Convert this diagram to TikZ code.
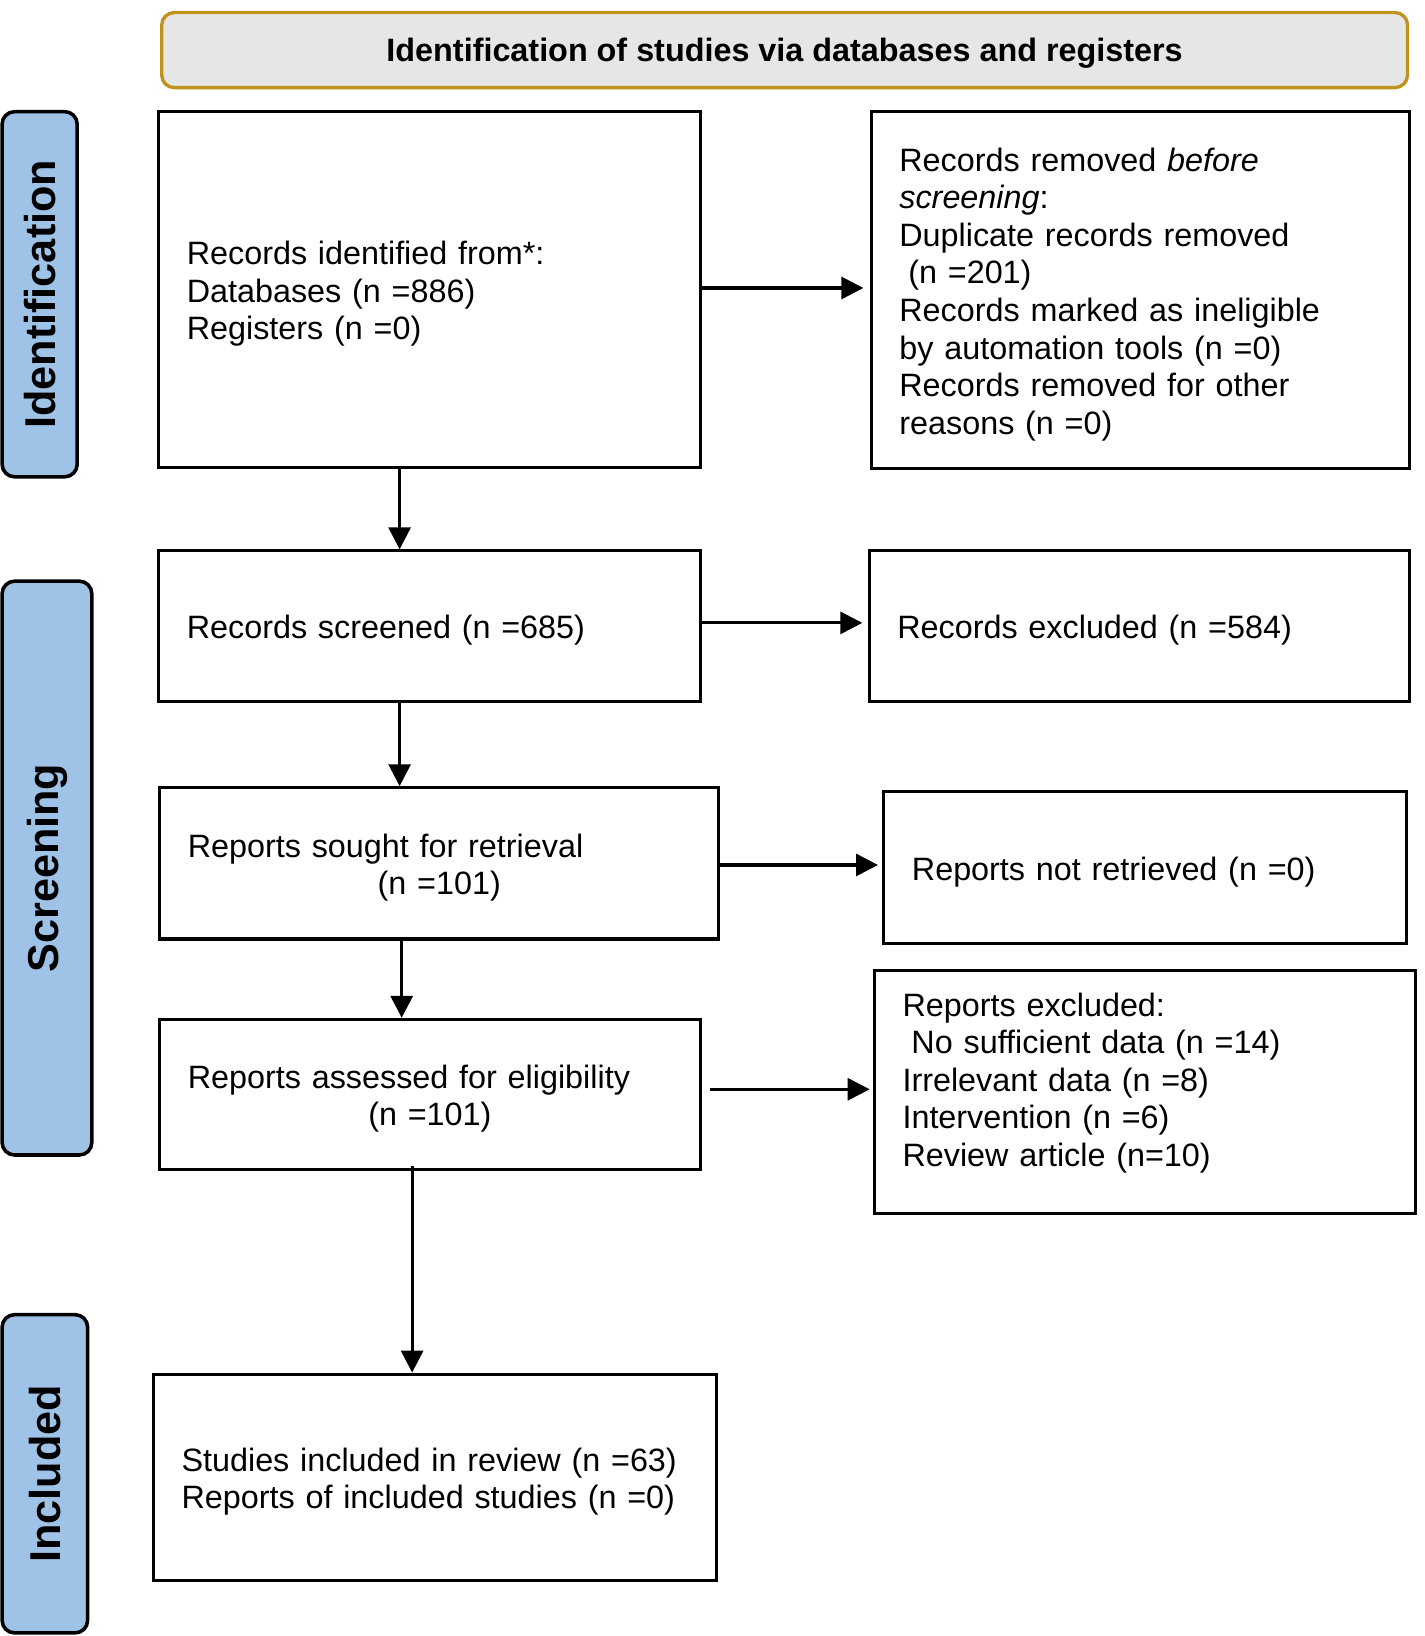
\documentclass[tikz,border=0pt]{standalone}
\usepackage{fontspec}
\setmainfont{Liberation Sans}
\usetikzlibrary{arrows.meta,calc}
\definecolor{sideblue}{RGB}{159,195,230}
\definecolor{headgray}{RGB}{230,230,230}
\definecolor{headgold}{RGB}{191,148,30}
\newcommand{\boxfont}{\fontsize{15.5}{18}\selectfont}
\newcommand{\sidefont}{\fontsize{20.7}{24}\selectfont\bfseries}
\newcommand{\lsp}{\hspace*{4.3pt}}
\begin{document}
\begin{tikzpicture}[x=0.5pt,y=-0.5pt,
  flow/.style={draw, line width=1.5pt, rectangle, inner xsep=13.5pt, inner ysep=0pt, align=left, font=\boxfont,
    execute at begin node={\rule{0pt}{15.3pt}}},
  side/.style={draw, line width=1.7pt, rounded corners=6pt, fill=sideblue, rotate=90, font=\sidefont, inner sep=0pt},
  header/.style={draw=headgold, fill=headgray, line width=1.6pt, rounded corners=6pt, font=\boxfont\bfseries, minimum width=597pt, minimum height=36pt, inner sep=0pt,
    execute at begin node={\rule{0pt}{14.5pt}}},
  arr/.style={-{Triangle[length=10.5pt,width=10.5pt]}, line width=1.5pt}]
\useasboundingbox (0,0) rectangle (1365,1568);

\node[header] (head) at (752,48) {Identification of studies via databases and registers};

\node[side, minimum width=175pt, minimum height=36pt] (sid) at (38,282) {Identification};
\node[side, minimum width=275pt, minimum height=43pt] (sscr) at (45,832) {Screening};
\node[side, minimum width=152.5pt, minimum height=41pt] (sinc) at (43,1412.5) {Included};

\node[flow, minimum width=259.5pt, text width=232.5pt, minimum height=170.5pt] (b1) at (411.5,277.5)
  {Records identified from*:\\Databases (n =886)\\Registers (n =0)};
\node[flow, minimum width=258pt, text width=231pt, minimum height=171pt] (b2) at (1093,278)
  {Records removed \textit{before}\\\textit{screening}:\\Duplicate records removed\\\lsp(n =201)\\Records marked as ineligible\\by automation tools (n =0)\\Records removed for other\\reasons (n =0)};
\node[flow, minimum width=259.5pt, text width=232.5pt, minimum height=72pt] (b3) at (411.5,600)
  {Records screened (n =685)};
\node[flow, minimum width=259pt, text width=232pt, minimum height=72pt] (b4) at (1092,600)
  {Records excluded (n =584)};
\node[flow, minimum width=268pt, text width=241pt, minimum height=72.5pt] (b5) at (421,827.5)
  {Reports sought for retrieval\\\hspace*{91pt}(n =101)};
\node[flow, minimum width=250.5pt, text width=223.5pt, minimum height=72.5pt] (b6) at (1097.5,831.5)
  {Reports not retrieved (n =0)};
\node[flow, minimum width=259pt, text width=232pt, minimum height=72pt] (b7) at (412,1049)
  {Reports assessed for eligibility\\\hspace*{86.5pt}(n =101)};
\node[flow, minimum width=259.5pt, text width=232.5pt, minimum height=116.5pt] (b8) at (1097.5,1046.5)
  {Reports excluded:\\\lsp No sufficient data (n =14)\\Irrelevant data (n =8)\\Intervention (n =6)\\Review article (n=10)\\[-2pt]\mbox{}};
\node[flow, minimum width=270pt, text width=243pt, minimum height=99pt] (b9) at (417,1416)
  {Studies included in review (n =63)\\Reports of included studies (n =0)};

\draw[arr, shorten >=3pt] ([yshift=0.75pt]b1.east) -- ([yshift=0.75pt]b1.east -| b2.west);
\draw[arr] ([xshift=-14.25pt]b1.south) -- ([xshift=-14.25pt]b1.south |- b3.north);
\draw[arr, shorten >=2.5pt] ([yshift=1.5pt]b3.east) -- ([yshift=1.5pt]b3.east -| b4.west);
\draw[arr] ([xshift=-14.25pt]b3.south) -- ([xshift=-14.25pt]b3.south |- b5.north);
\draw[arr, shorten >=2pt] ([yshift=-0.75pt]b5.east) -- ([yshift=-0.75pt]b5.east -| b6.west);
\draw[arr] ([xshift=-18pt]b5.south) -- ([xshift=-18pt]b5.south |- b7.north);
\draw[arr, shorten <=4pt, shorten >=1.5pt] ([yshift=2.5pt]b7.east) -- ([yshift=2.5pt]b7.east -| b8.west);
\draw[arr, shorten <=-2.5pt] ([xshift=-8.5pt]b7.south) -- ([xshift=-8.5pt]b7.south |- b9.north);
\end{tikzpicture}
\end{document}
